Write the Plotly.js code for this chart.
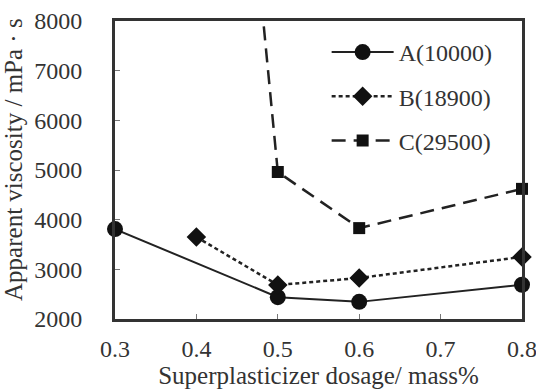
<!DOCTYPE html>
<html>
<head>
<meta charset="utf-8">
<script src="https://cdn.plot.ly/plotly-3.0.1.min.js"></script>
<style>html,body{margin:0;padding:0;background:#fff;}#chart{width:536px;height:392px;}</style>
</head>
<body>
<div id="chart"></div>
<script>
// Data
const dosageA = [0.3, 0.5, 0.6, 0.8];
const viscA   = [3810, 2440, 2345, 2690];
const dosageB = [0.4, 0.5, 0.6, 0.8];
const viscB   = [3650, 2685, 2825, 3250];
const dosageC = [0.4, 0.5, 0.6, 0.8];
const viscC   = [22000, 4960, 3830, 4620];
const seriesNames = ['A(10000)', 'B(18900)', 'C(29500)'];
const xTicks = [0.3, 0.4, 0.5, 0.6, 0.7, 0.8];
const yTicks = [2000, 3000, 4000, 5000, 6000, 7000, 8000];
const xTitle = 'Superplasticizer dosage/ mass%';
const yTitle = 'Apparent viscosity / mPa · s';

const FONT = '"Liberation Serif", serif';
const INK = '#222';

const traces = [
  {x: dosageA, y: viscA, name: seriesNames[0], legendgroup: 'a', mode: 'lines+markers', cliponaxis: false,
   line: {color: INK, width: 2, dash: 'solid'}, marker: {symbol: 'circle', size: 16, color: '#111'}},
  {x: dosageB, y: viscB, name: seriesNames[1], legendgroup: 'b', mode: 'lines+markers', cliponaxis: false,
   line: {color: INK, width: 2.5, dash: '4px,3px'}, marker: {symbol: 'diamond', size: 15, color: '#111'}},
  {x: dosageC, y: viscC, name: seriesNames[2], legendgroup: 'c', mode: 'lines+markers', cliponaxis: false,
   line: {color: INK, width: 2.5, dash: '14px,8px'}, marker: {symbol: 'square', size: 12, color: '#111'}}
];

const layout = {
  width: 536, height: 392,
  margin: {l: 115, r: 14, t: 21, b: 73, pad: 0},
  paper_bgcolor: '#fff', plot_bgcolor: '#fff',
  font: {family: FONT, color: '#333', size: 23},
  showlegend: true,
  legend: {x: 0.52, y: 0.97, xanchor: 'left', yanchor: 'top', bgcolor: 'rgba(0,0,0,0)',
           font: {family: FONT, size: 24, color: '#333'}, traceorder: 'grouped', tracegroupgap: 10,
           itemwidth: 62},
  xaxis: {range: [0.3, 0.8], tickvals: xTicks, ticktext: xTicks.map(v => v.toFixed(1)),
          showgrid: false, zeroline: false, showline: true, mirror: true, linecolor: '#333', linewidth: 3,
          ticks: 'inside', ticklen: 5, tickcolor: '#777', tickwidth: 1, ticklabeloverflow: 'allow',
          tickfont: {family: FONT, size: 24, color: '#333'}, ticklabelstandoff: 6,
          title: {text: xTitle, font: {family: FONT, size: 25, color: '#333'}, standoff: 4}},
  yaxis: {range: [2000, 8000], tickvals: yTicks,
          showgrid: false, zeroline: false, showline: true, mirror: true, linecolor: '#333', linewidth: 3,
          ticks: 'inside', ticklen: 5, tickcolor: '#777', tickwidth: 1,
          tickfont: {family: FONT, size: 24, color: '#333'}, ticklabelstandoff: 25},
  annotations: [{text: yTitle, textangle: -90, xref: 'paper', yref: 'paper',
                 x: -0.248, y: 0.534, xanchor: 'center', yanchor: 'middle', showarrow: false,
                 font: {family: FONT, size: 25, color: '#333'}}]
};

Plotly.newPlot('chart', traces, layout, {staticPlot: true, displayModeBar: false});
</script>
</body>
</html>
